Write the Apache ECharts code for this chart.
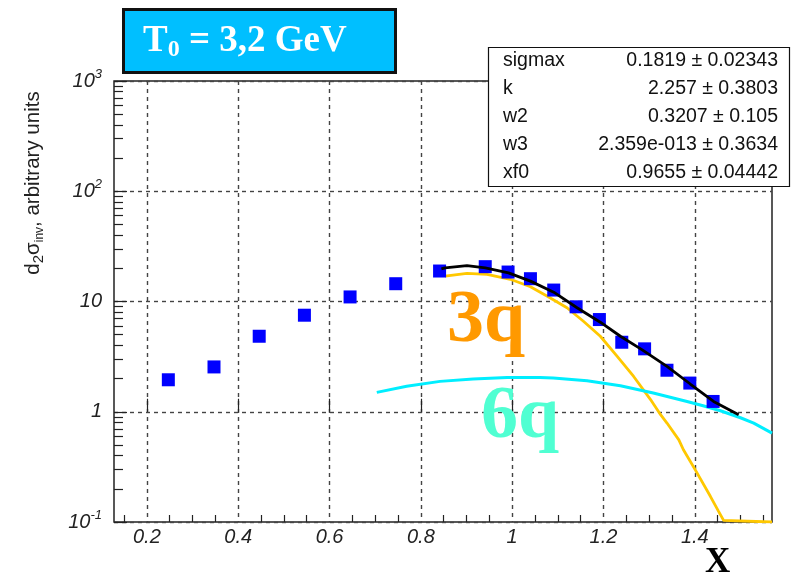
<!DOCTYPE html>
<html>
<head>
<meta charset="utf-8">
<script src="https://cdn.jsdelivr.net/npm/echarts@6/dist/echarts.min.js"></script>
<style>
html, body { margin: 0; padding: 0; background: #fff; }
#chart { width: 803px; height: 576px; }
</style>
</head>
<body>
<div id="chart"></div>
<script>
// Measured invariant cross section (blue squares)
const dataX = [0.247, 0.347, 0.446, 0.545, 0.645, 0.745, 0.841, 0.941, 0.991, 1.040, 1.091, 1.140, 1.191, 1.240, 1.290, 1.339, 1.389, 1.440];
const dataY = [1.95, 2.55, 4.84, 7.51, 11.0, 14.5, 18.9, 20.7, 18.5, 16.1, 12.7, 8.95, 6.86, 4.27, 3.72, 2.38, 1.82, 1.24];

// Total fit (black)
const fitX = [0.845, 0.853, 0.901, 0.941, 0.992, 1.040, 1.091, 1.142, 1.193, 1.237, 1.284, 1.339, 1.390, 1.441, 1.496];
const fitY = [19.8, 20.2, 21.2, 20.2, 18.2, 15.3, 12.15, 8.77, 6.49, 4.84, 3.66, 2.58, 1.785, 1.24, 0.94];

// 3q component (gold)
const q3X = [0.853, 0.901, 0.945, 0.996, 1.040, 1.076, 1.120, 1.156, 1.193, 1.230, 1.266, 1.303, 1.325, 1.339, 1.365, 1.375, 1.401, 1.434, 1.452, 1.463, 1.467, 1.569];
const q3Y = [17.0, 18.0, 17.6, 15.9, 13.6, 11.2, 8.78, 6.62, 4.84, 3.18, 2.09, 1.29, 0.94, 0.79, 0.556, 0.452, 0.297, 0.171, 0.125, 0.1035, 0.1, 0.1];

// 6q component (cyan)
const q6X = [0.7035, 0.769, 0.842, 0.9145, 0.989, 1.061, 1.090, 1.164, 1.237, 1.309, 1.346, 1.383, 1.418, 1.456, 1.500, 1.529, 1.569];
const q6Y = [1.498, 1.70, 1.886, 1.983, 2.05, 2.05, 2.025, 1.913, 1.72, 1.479, 1.355, 1.24, 1.134, 1.021, 0.882, 0.789, 0.640];

// Axis ticks
const xTicks = [0.2, 0.4, 0.6, 0.8, 1.0, 1.2, 1.4];
const xTickLabels = ['0.2', '0.4', '0.6', '0.8', '1', '1.2', '1.4'];
const xMinorTicks = [0.15, 0.25, 0.3, 0.35, 0.45, 0.5, 0.55, 0.65, 0.7, 0.75, 0.85, 0.9, 0.95, 1.05, 1.1, 1.15, 1.25, 1.3, 1.35, 1.45, 1.5, 1.55];
const yDecades = [-1, 0, 1, 2];
const yMantissas = [2, 3, 4, 5, 6, 7, 8, 9];

// Fit parameter box
const statNames = ['sigmax', 'k', 'w2', 'w3', 'xf0'];
const statValues = ['0.1819 \u00b1 0.02343', '2.257 \u00b1 0.3803', '0.3207 \u00b1 0.105', '2.359e-013 \u00b1 0.3634', '0.9655 \u00b1 0.04442'];

const zip = (xs, ys) => xs.map((x, i) => [x, ys[i]]);

const yMinorLog = [];
yDecades.forEach(d => yMantissas.forEach(m => yMinorLog.push(d + Math.log10(m))));

const SANS = '"Liberation Sans", Arial, sans-serif';
const SERIF = '"Liberation Serif", "Times New Roman", serif';
const INK = '#222';

const chart = echarts.init(document.getElementById('chart'), null, { renderer: 'canvas' });

const gridLine = { show: true, lineStyle: { type: [4, 4], color: '#444', width: 1.4 } };

const statTexts = [];
statNames.forEach((n, i) => {
  const y = 61 + i * 28;
  statTexts.push({
    type: 'text', x: 503, y: y, z: 101,
    style: { text: n, font: '19.5px ' + SANS, fill: '#111', align: 'left', textAlign: 'left', verticalAlign: 'middle', textVerticalAlign: 'middle' }
  });
  statTexts.push({
    type: 'text', x: 778, y: y, z: 101,
    style: { text: statValues[i], font: '19.5px ' + SANS, fill: '#111', align: 'right', textAlign: 'right', verticalAlign: 'middle', textVerticalAlign: 'middle' }
  });
});

const option = {
  animation: false,
  backgroundColor: '#fff',
  grid: { left: 114, top: 81, width: 658, height: 441, show: true, borderColor: '#222', borderWidth: 1.5, backgroundColor: 'transparent' },
  xAxis: [
    {
      type: 'value', min: 0.128, max: 1.569, minInterval: 0.2, maxInterval: 0.2,
      axisLine: { show: false },
      axisTick: { show: true, inside: true, length: 13, customValues: xTicks, lineStyle: { color: INK, width: 1.2 } },
      axisLabel: {
        customValues: xTicks,
        formatter: v => { const i = xTicks.findIndex(t => Math.abs(t - v) < 1e-6); return i >= 0 ? xTickLabels[i] : ''; },
        margin: 5, fontFamily: SANS, fontStyle: 'italic', fontSize: 20, color: INK
      },
      splitLine: gridLine
    },
    {
      type: 'value', min: 0.128, max: 1.569, position: 'bottom',
      axisLine: { show: false },
      axisTick: { show: true, inside: true, length: 7, customValues: xMinorTicks, lineStyle: { color: INK, width: 1.2 } },
      axisLabel: { show: false },
      splitLine: { show: false }
    }
  ],
  yAxis: [
    {
      type: 'log', logBase: 10, min: 0.1, max: 1000,
      axisLine: { show: false },
      axisTick: { show: true, inside: true, length: 13, lineStyle: { color: INK, width: 1.2 } },
      axisLabel: {
        margin: 12,
        formatter: v => {
          const e = Math.round(Math.log10(v));
          if (e === 0) return '{b|1}';
          if (e === 1) return '{b|10}';
          return '{b|10}{p|' + e + '}';
        },
        rich: {
          b: { fontFamily: SANS, fontStyle: 'italic', fontSize: 20, lineHeight: 26, color: INK },
          p: { fontFamily: SANS, fontStyle: 'italic', fontSize: 13, lineHeight: 14, verticalAlign: 'top', color: INK }
        }
      },
      splitLine: gridLine
    },
    {
      type: 'value', min: -1, max: 3, position: 'left',
      axisLine: { show: false },
      axisTick: { show: true, inside: true, length: 9, customValues: yMinorLog, lineStyle: { color: INK, width: 1.2 } },
      axisLabel: { show: false },
      splitLine: { show: false }
    }
  ],
  series: [
    {
      name: '3q', type: 'line', data: zip(q3X, q3Y), symbol: 'none', showSymbol: false, z: 2,
      lineStyle: { color: '#FFC800', width: 2.8 }
    },
    {
      name: '6q', type: 'line', data: zip(q6X, q6Y), symbol: 'none', showSymbol: false, z: 2,
      lineStyle: { color: '#00EEFF', width: 3 }
    },
    {
      name: 'data', type: 'scatter', data: zip(dataX, dataY), symbol: 'rect', symbolSize: 13, z: 3,
      itemStyle: { color: '#0000FF', opacity: 1 }
    },
    {
      name: 'fit', type: 'line', data: zip(fitX, fitY), symbol: 'none', showSymbol: false, z: 4,
      lineStyle: { color: '#000', width: 2.8 }
    }
  ],
  graphic: [
    // Beam energy label
    { type: 'rect', z: 100, shape: { x: 123.5, y: 9.5, width: 272, height: 63 }, style: { fill: '#00BFFF', stroke: '#111', lineWidth: 3 } },
    {
      type: 'text', x: 143, y: 41.5, z: 101,
      style: {
        text: '{t|T}{s|0}{t| = 3,2 GeV}', align: 'left', textAlign: 'left', verticalAlign: 'middle', textVerticalAlign: 'middle',
        rich: {
          t: { fontFamily: SERIF, fontWeight: 'bold', fontSize: 37, lineHeight: 40, fill: '#fff', color: '#fff' },
          s: { fontFamily: SERIF, fontWeight: 'bold', fontSize: 24, lineHeight: 17, verticalAlign: 'bottom', fill: '#fff', color: '#fff' }
        }
      }
    },
    // Fit parameter box
    { type: 'rect', z: 100, shape: { x: 488.5, y: 47.5, width: 301, height: 139 }, style: { fill: '#fff', stroke: '#111', lineWidth: 1.2 } },
    ...statTexts,
    // Component labels
    { type: 'text', x: 447, y: 322, z: 101, style: { text: '3q', font: 'bold 74px ' + SERIF, fill: '#FF9900', align: 'left', textAlign: 'left', verticalAlign: 'middle', textVerticalAlign: 'middle' } },
    { type: 'text', x: 481, y: 418, z: 101, style: { text: '6q', font: 'bold 74px ' + SERIF, fill: '#50FFD2', align: 'left', textAlign: 'left', verticalAlign: 'middle', textVerticalAlign: 'middle' } },
    { type: 'text', x: 705, y: 562.5, z: 101, style: { text: 'X', font: 'bold 35px ' + SERIF, fill: '#000', align: 'left', textAlign: 'left', verticalAlign: 'middle', textVerticalAlign: 'middle' } },
    // Y axis title
    {
      type: 'text', x: 33, y: 183, rotation: Math.PI / 2, z: 101,
      style: {
        text: '{n|d}{s|2}{n|\u03c3}{i|inv}{n|, arbitrary units}', align: 'center', textAlign: 'center', verticalAlign: 'middle', textVerticalAlign: 'middle',
        rich: {
          n: { fontFamily: SANS, fontSize: 20.5, lineHeight: 26, fill: INK, color: INK },
          s: { fontFamily: SANS, fontSize: 15, lineHeight: 13, verticalAlign: 'bottom', fill: INK, color: INK },
          i: { fontFamily: SANS, fontSize: 12, lineHeight: 11, verticalAlign: 'bottom', fill: INK, color: INK }
        }
      }
    }
  ]
};

chart.setOption(option);
</script>
</body>
</html>
